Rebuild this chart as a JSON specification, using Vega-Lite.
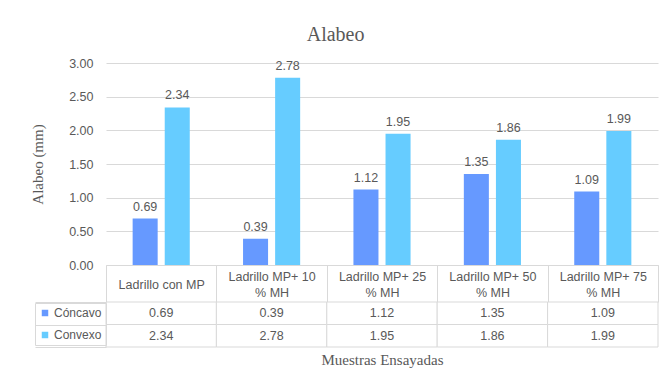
{
  "$schema": "https://vega.github.io/schema/vega-lite/v6.json",
  "padding": {"left": 30, "top": 25, "right": 8, "bottom": 8},
  "background": "white",
  "title": {"text": "Alabeo", "font": "Liberation Serif", "fontSize": 20, "fontWeight": "normal", "color": "#595959", "anchor": "middle", "offset": 12, "dx": -9},
  "data": {"values": [
    {"Muestra": "Ladrillo con MP", "Serie": "Cóncavo", "Valor": 0.69},
    {"Muestra": "Ladrillo con MP", "Serie": "Convexo", "Valor": 2.34},
    {"Muestra": "Ladrillo MP+ 10 % MH", "Serie": "Cóncavo", "Valor": 0.39},
    {"Muestra": "Ladrillo MP+ 10 % MH", "Serie": "Convexo", "Valor": 2.78},
    {"Muestra": "Ladrillo MP+ 25 % MH", "Serie": "Cóncavo", "Valor": 1.12},
    {"Muestra": "Ladrillo MP+ 25 % MH", "Serie": "Convexo", "Valor": 1.95},
    {"Muestra": "Ladrillo MP+ 50 % MH", "Serie": "Cóncavo", "Valor": 1.35},
    {"Muestra": "Ladrillo MP+ 50 % MH", "Serie": "Convexo", "Valor": 1.86},
    {"Muestra": "Ladrillo MP+ 75 % MH", "Serie": "Cóncavo", "Valor": 1.09},
    {"Muestra": "Ladrillo MP+ 75 % MH", "Serie": "Convexo", "Valor": 1.99}
  ]},
  "bounds": "flush",
  "spacing": 37,
  "vconcat": [
    {
      "width": 552,
      "height": 202,
      "encoding": {
        "x": {"field": "Muestra", "type": "nominal", "sort": null,
          "scale": {"paddingInner": 0, "paddingOuter": 0},
          "axis": {"title": null, "orient": "bottom", "domain": true, "domainColor": "#d9d9d9",
            "ticks": true, "tickBand": "extent", "tickSize": 37, "tickColor": "#d9d9d9",
            "labelAngle": 0, "labelBaseline": "middle",
            "labelPadding": {"condition": {"test": "indexof(datum.label, '%') > 0", "value": -26}, "value": -18},
            "labelLineHeight": 16,
            "labelFont": "Liberation Sans", "labelFontSize": 12.5, "labelColor": "#595959",
            "labelOverlap": false, "labelLimit": 0, "labelBound": false, "labelFlush": false,
            "labelExpr": "indexof(datum.label, '%') > 0 ? [trim(slice(datum.label, 0, indexof(datum.label, '%'))), slice(datum.label, indexof(datum.label, '%'))] : datum.label"}},
        "xOffset": {"field": "Serie", "type": "nominal", "sort": ["Cóncavo", "Convexo"], "scale": {"paddingInner": 0.22, "paddingOuter": 0.83}},
        "y": {"field": "Valor", "type": "quantitative",
          "scale": {"domain": [0, 3], "nice": false},
          "axis": {"title": "Alabeo (mm)", "titleFont": "Liberation Serif", "titleFontSize": 15, "titleFontWeight": "normal", "titleColor": "#595959", "titlePadding": 23,
            "values": [0, 0.5, 1, 1.5, 2, 2.5, 3], "format": ".2f", "domain": false, "ticks": false,
            "labelFont": "Liberation Sans", "labelFontSize": 12.5, "labelColor": "#595959", "labelPadding": 13,
            "grid": true, "gridColor": "#d9d9d9"}}
      },
      "layer": [
        {"mark": {"type": "bar"},
          "encoding": {"color": {"field": "Serie", "type": "nominal",
            "scale": {"domain": ["Cóncavo", "Convexo"], "range": ["#6699FF", "#66CCFF"]},
            "legend": {"title": null, "orient": "none", "legendX": -71, "legendY": 240, "direction": "vertical",
              "symbolType": "square", "symbolSize": 42, "symbolStrokeWidth": 0, "labelOffset": 3,
              "labelFont": "Liberation Sans", "labelFontSize": 12, "labelColor": "#595959",
              "rowPadding": 10, "padding": 4, "strokeColor": "#d9d9d9"}}}},
        {"mark": {"type": "text", "baseline": "bottom", "dy": -5, "font": "Liberation Sans", "fontSize": 12.5, "color": "#595959"},
          "encoding": {"text": {"field": "Valor", "type": "quantitative", "format": ".2f"}}}
      ]
    },
    {
      "width": 552,
      "height": 45,
      "encoding": {
        "x": {"field": "Muestra", "type": "nominal", "sort": null,
          "scale": {"paddingInner": 0, "paddingOuter": 0},
          "axis": {"title": "Muestras Ensayadas", "titleFont": "Liberation Serif", "titleFontSize": 15, "titleFontWeight": "normal", "titleColor": "#595959", "titlePadding": 5,
            "labels": false, "ticks": false, "domain": false}},
        "y": {"field": "Serie", "type": "nominal", "sort": ["Cóncavo", "Convexo"],
          "scale": {"paddingInner": 0, "paddingOuter": 0},
          "axis": {"title": null, "labels": false, "domain": false, "ticks": true, "tickBand": "extent", "tickSize": 71, "tickColor": "#d9d9d9"}}
      },
      "layer": [
        {"mark": {"type": "rect", "fill": "white", "stroke": "#d9d9d9", "strokeWidth": 1}},
        {"mark": {"type": "text", "font": "Liberation Sans", "fontSize": 12.5, "color": "#595959"},
          "encoding": {"text": {"field": "Valor", "type": "quantitative", "format": ".2f"}}}
      ]
    }
  ],
  "config": {"view": {"stroke": null}}
}
